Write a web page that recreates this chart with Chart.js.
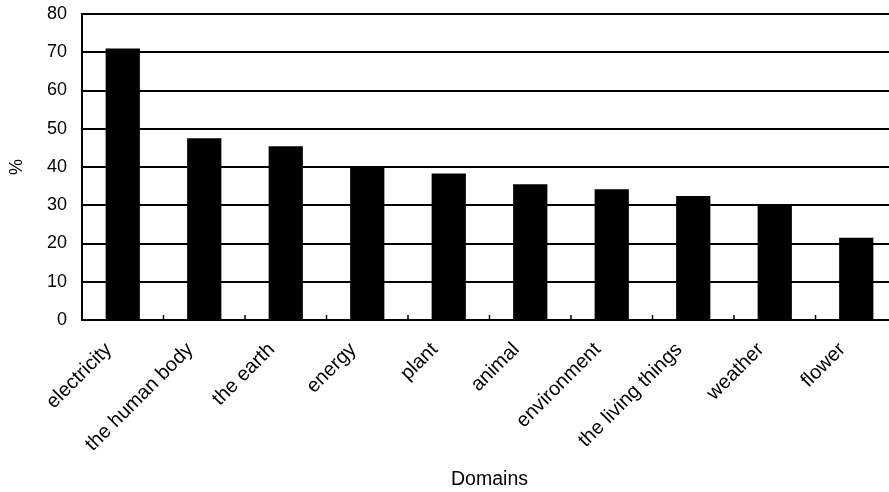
<!DOCTYPE html>
<html>
<head>
<meta charset="utf-8">
<script src="https://cdn.jsdelivr.net/npm/chart.js@4/dist/chart.umd.min.js"></script>
<style>
  html, body { margin: 0; padding: 0; background: #fff; overflow: hidden; }
  #wrap { width: 900px; height: 492px; position: relative; }
</style>
</head>
<body>
<div id="wrap"><canvas id="c"></canvas></div>
<script>
const categories = ['electricity', 'the human body', 'the earth', 'energy', 'plant', 'animal', 'environment', 'the living things', 'weather', 'flower'];
const values = [71, 47.5, 45.4, 40, 38.3, 35.5, 34.2, 32.4, 30.3, 21.5];
const yTicks = [0, 10, 20, 30, 40, 50, 60, 70, 80];

const FONT = "'Liberation Sans', Arial, sans-serif";

const innerTicks = {
  id: 'innerTicks',
  afterDatasetsDraw(chart) {
    const x = chart.scales.x, y = chart.scales.y;
    const ctx = chart.ctx;
    const bottom = y.getPixelForValue(0);
    ctx.save();
    ctx.strokeStyle = '#000';
    ctx.lineWidth = 1.5;
    for (let i = 0; i < categories.length - 1; i++) {
      const px = (x.getPixelForValue(i) + x.getPixelForValue(i + 1)) / 2;
      ctx.beginPath();
      ctx.moveTo(px, bottom);
      ctx.lineTo(px, bottom - 5);
      ctx.stroke();
    }
    ctx.restore();
  }
};

new Chart(document.getElementById('c'), {
  type: 'bar',
  data: {
    labels: categories,
    datasets: [{
      data: values,
      backgroundColor: '#000',
      borderWidth: 0,
      categoryPercentage: 1,
      barPercentage: 0.42
    }]
  },
  options: {
    responsive: true,
    maintainAspectRatio: false,
    animation: false,
    layout: { padding: { top: 14, right: 3, left: 0, bottom: 0 } },
    plugins: {
      legend: { display: false },
      tooltip: { enabled: false }
    },
    scales: {
      x: {
        grid: { display: false, drawTicks: false },
        border: { display: true, color: '#000', width: 2 },
        ticks: {
          color: '#000',
          font: { family: FONT, size: 20 },
          minRotation: 45,
          maxRotation: 45,
          autoSkip: false,
          labelOffset: -14,
          padding: 18
        },
        title: {
          display: true,
          text: 'Domains',
          color: '#000',
          font: { family: FONT, size: 19.5 },
          padding: { top: 0, bottom: 1 }
        },
        afterFit(scale) {
          scale.height = 172;
          scale.paddingLeft = 0;
          scale.paddingRight = 0;
        }
      },
      y: {
        min: 0,
        max: 80,
        afterBuildTicks(scale) { scale.ticks = yTicks.map(v => ({ value: v })); },
        grid: { color: '#000', lineWidth: 2, drawTicks: false },
        border: { display: true, color: '#000', width: 2 },
        ticks: {
          color: '#000',
          font: { family: FONT, size: 18 },
          padding: 15
        },
        title: {
          display: true,
          text: '%',
          color: '#000',
          font: { family: FONT, size: 18 },
          padding: { top: 6, bottom: 0 }
        },
        afterFit(scale) {
          scale.width = 82;
          scale.paddingTop = 0;
          scale.paddingBottom = 0;
        }
      }
    }
  },
  plugins: [innerTicks]
});
</script>
</body>
</html>
